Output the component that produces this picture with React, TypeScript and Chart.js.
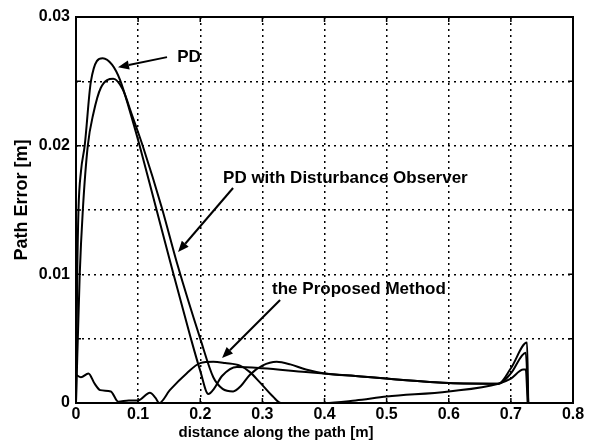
import { useEffect, useRef } from 'react';
import { Chart, registerables } from 'chart.js';

Chart.register(...registerables);

// ---- data ----
const pdX = [0, 0.002, 0.004, 0.008, 0.014, 0.024, 0.043, 0.058, 0.071, 0.086, 0.103, 0.127, 0.151, 0.185, 0.2, 0.213, 0.222, 0.235, 0.259, 0.3, 0.37, 0.45, 0.6, 0.68, 0.7, 0.726, 0.728];
const pdY = [0, 0.01, 0.015, 0.018, 0.02, 0.025, 0.0268, 0.0263, 0.0251, 0.0228, 0.0199, 0.0155, 0.0111, 0.005, 0.0025, 0.0007, 0.0011, 0.0021, 0.0028, 0.0027, 0.0024, 0.0021, 0.00155, 0.0015, 0.0027, 0.0047, 0];

const dobX = [0, 0.006, 0.011, 0.019, 0.028, 0.04, 0.06, 0.075, 0.09, 0.108, 0.138, 0.163, 0.2, 0.221, 0.236, 0.253, 0.265, 0.28, 0.3, 0.323, 0.345, 0.37, 0.4, 0.45, 0.6, 0.68, 0.7, 0.724, 0.728];
const dobY = [0, 0.01, 0.015, 0.02, 0.0225, 0.0245, 0.0252, 0.0244, 0.0224, 0.0199, 0.0152, 0.0108, 0.005, 0.002, 0.0011, 0.0009, 0.0013, 0.0022, 0.0029, 0.0032, 0.003, 0.0026, 0.0023, 0.0021, 0.00155, 0.0015, 0.0023, 0.0039, 0];

const propX = [0, 0.008, 0.02, 0.03, 0.039, 0.056, 0.068, 0.085, 0.1, 0.119, 0.128, 0.134, 0.151, 0.178, 0.2, 0.221, 0.24, 0.264, 0.28, 0.296, 0.317, 0.33, 0.4, 0.45, 0.5, 0.6, 0.68, 0.7, 0.72, 0.724, 0.727];
const propY = [0.0022, 0.002, 0.0023, 0.0015, 0.001, 0.0009, 0.0001, 0.0002, 0.0002, 0.0008, 0.0004, 0, 0.001, 0.0023, 0.0031, 0.0032, 0.0031, 0.0029, 0.0024, 0.0016, 0.0005, 0, 0, 0.0002, 0.0005, 0.0009, 0.0015, 0.0019, 0.0026, 0.0026, 0];

const xTickLabels = ['0', '0.1', '0.2', '0.3', '0.4', '0.5', '0.6', '0.7', '0.8'];
const yLabelValues = [0, 0.01, 0.02, 0.03];
const yLabelTexts = ['0', '0.01', '0.02', '0.03'];

const xTitle = 'distance along the path [m]';
const yTitle = 'Path Error [m]';

// annotation labels with arrows (data coordinates)
const noteTexts = ['PD', 'PD with Disturbance Observer', 'the Proposed Method'];
const noteTextX = [0.163, 0.2367, 0.3156];
const noteTextY = [0.0269, 0.01748, 0.00886];
const arrowTailX = [0.1465, 0.2528, 0.3285];
const arrowTailY = [0.02688, 0.01671, 0.008];
const arrowHeadX = [0.0676, 0.1643, 0.2351];
const arrowHeadY = [0.0261, 0.01173, 0.0035];

const FONT = '"Liberation Sans", Arial, Helvetica, sans-serif';

const toPoints = (xs: number[], ys: number[]) => xs.map((x, i) => ({ x, y: ys[i] }));

const decorPlugin = {
  id: 'decor',
  afterDraw(chart: any) {
    const { ctx, chartArea, scales } = chart;
    const xs = scales.x;
    const ys = scales.y;
    ctx.save();
    ctx.strokeStyle = '#000';
    ctx.fillStyle = '#000';
    // box
    ctx.lineWidth = 2;
    ctx.setLineDash([]);
    ctx.strokeRect(chartArea.left, chartArea.top, chartArea.right - chartArea.left, chartArea.bottom - chartArea.top);
    // inside tick marks
    ctx.lineWidth = 1.5;
    const tl = 5;
    ctx.beginPath();
    xs.ticks.forEach((t: any) => {
      const px = xs.getPixelForValue(t.value);
      ctx.moveTo(px, chartArea.bottom);
      ctx.lineTo(px, chartArea.bottom - tl);
      ctx.moveTo(px, chartArea.top);
      ctx.lineTo(px, chartArea.top + tl);
    });
    ys.ticks.forEach((t: any) => {
      const py = ys.getPixelForValue(t.value);
      ctx.moveTo(chartArea.left, py);
      ctx.lineTo(chartArea.left + tl, py);
      ctx.moveTo(chartArea.right, py);
      ctx.lineTo(chartArea.right - tl, py);
    });
    ctx.stroke();

    // annotations
    ctx.font = `bold 17px ${FONT}`;
    ctx.textAlign = 'left';
    ctx.textBaseline = 'middle';
    noteTexts.forEach((txt, i) => {
      ctx.fillText(txt, xs.getPixelForValue(noteTextX[i]), ys.getPixelForValue(noteTextY[i]));
      const x0 = xs.getPixelForValue(arrowTailX[i]);
      const y0 = ys.getPixelForValue(arrowTailY[i]);
      const x1 = xs.getPixelForValue(arrowHeadX[i]);
      const y1 = ys.getPixelForValue(arrowHeadY[i]);
      const ang = Math.atan2(y1 - y0, x1 - x0);
      const hl = 11;
      const hw = 4.5;
      const bx = x1 - hl * Math.cos(ang);
      const by = y1 - hl * Math.sin(ang);
      ctx.lineWidth = 2;
      ctx.beginPath();
      ctx.moveTo(x0, y0);
      ctx.lineTo(bx, by);
      ctx.stroke();
      ctx.beginPath();
      ctx.moveTo(x1, y1);
      ctx.lineTo(bx + hw * Math.sin(ang), by - hw * Math.cos(ang));
      ctx.lineTo(bx - hw * Math.sin(ang), by + hw * Math.cos(ang));
      ctx.closePath();
      ctx.fill();
    });

    // axis titles
    ctx.font = `bold 15px ${FONT}`;
    ctx.textAlign = 'center';
    ctx.textBaseline = 'alphabetic';
    ctx.fillText(xTitle, chartArea.left + 200, chartArea.bottom + 34);
    ctx.save();
    ctx.font = `bold 18px ${FONT}`;
    ctx.translate(22, chartArea.top + 183);
    ctx.rotate(-Math.PI / 2);
    ctx.textBaseline = 'middle';
    ctx.fillText(yTitle, 0, 0);
    ctx.restore();
    ctx.restore();
  },
};

export default function App() {
  const ref = useRef<HTMLCanvasElement>(null);
  useEffect(() => {
    document.body.style.margin = '0';
    const canvas = ref.current;
    if (!canvas) return;
    const lineStyle = {
      borderColor: '#000',
      backgroundColor: '#000',
      borderWidth: 2,
      pointRadius: 0,
      fill: false,
      cubicInterpolationMode: 'monotone' as const,
    };
    const chart = new Chart(canvas, {
      type: 'line',
      data: {
        datasets: [
          { label: 'PD', data: toPoints(pdX, pdY), ...lineStyle },
          { label: 'PD with Disturbance Observer', data: toPoints(dobX, dobY), ...lineStyle },
          { label: 'the Proposed Method', data: toPoints(propX, propY), ...lineStyle },
        ],
      },
      options: {
        animation: false,
        responsive: false,
        devicePixelRatio: 1,
        layout: { padding: { left: 0, top: 17, right: 23, bottom: 0 } },
        plugins: { legend: { display: false }, tooltip: { enabled: false } },
        scales: {
          x: {
            type: 'linear',
            min: 0,
            max: 0.8,
            afterFit: (s: any) => { s.height = 38; },
            ticks: {
              stepSize: 0.1,
              padding: 2,
              color: '#000',
              font: { family: FONT, size: 16, weight: 'bold' },
              callback: (_v: any, i: number) => xTickLabels[i] ?? '',
              maxRotation: 0,
            },
            grid: { color: '#000', lineWidth: 1.5, drawTicks: false },
            border: { display: false, dash: [2, 4] },
          },
          y: {
            type: 'linear',
            min: 0,
            max: 0.03,
            afterFit: (s: any) => { s.width = 76; },
            ticks: {
              stepSize: 0.005,
              padding: 6,
              color: '#000',
              font: { family: FONT, size: 16, weight: 'bold' },
              callback: (v: any) => {
                const k = yLabelValues.findIndex((lv) => Math.abs(lv - Number(v)) < 1e-9);
                return k >= 0 ? yLabelTexts[k] : '';
              },
            },
            grid: { color: '#000', lineWidth: 1.5, drawTicks: false },
            border: { display: false, dash: [2, 4] },
          },
        },
      },
      plugins: [decorPlugin],
    });
    return () => chart.destroy();
  }, []);
  return (
    <div style={{ width: 596, height: 441, background: '#fff' }}>
      <canvas ref={ref} width={596} height={441} />
    </div>
  );
}
